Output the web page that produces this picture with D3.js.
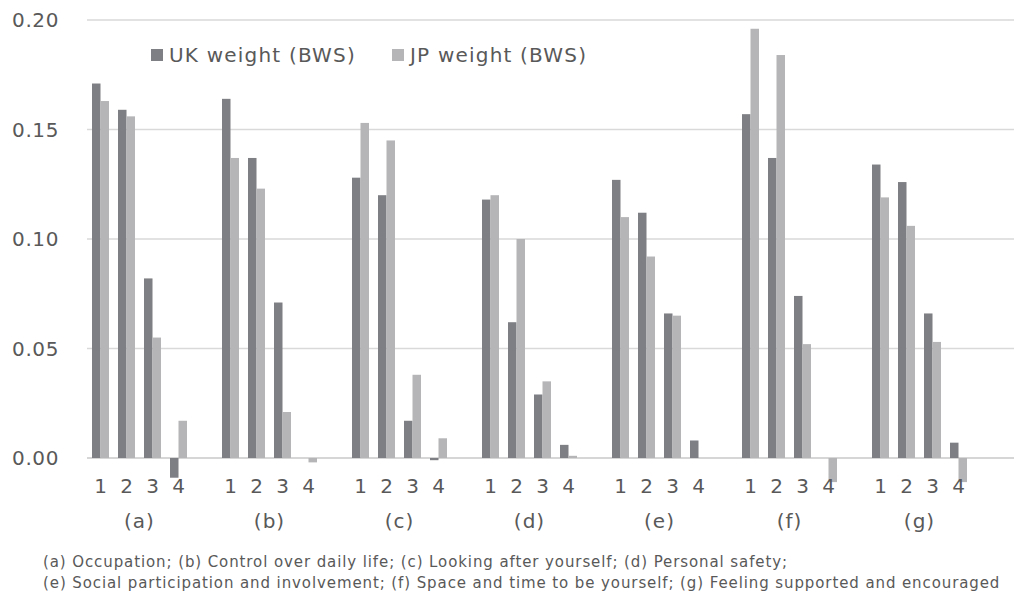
<!DOCTYPE html>
<html lang="en">
<head>
  <meta charset="UTF-8">
  <script src="https://cdn.jsdelivr.net/npm/d3@7"></script>
  <title>UK and JP weights (BWS)</title>
  <style>
    body { margin: 0; background: #fff; }
    text { font-family: "DejaVu Sans", Verdana, sans-serif; fill: #595959; }
  </style>
</head>
<body>
<script>
  // domains, categories and values
  var groups = ["(a)", "(b)", "(c)", "(d)", "(e)", "(f)", "(g)"];
  var levels = ["1", "2", "3", "4"];
  var seriesNames = ["UK weight (BWS)", "JP weight (BWS)"];
  var yTicks = [0, 0.05, 0.10, 0.15, 0.20];

  // one value per group x level, in group order
  var ukWeight = [
    0.171, 0.159, 0.082, -0.009,
    0.164, 0.137, 0.071, 0.000,
    0.128, 0.120, 0.017, -0.001,
    0.118, 0.062, 0.029, 0.006,
    0.127, 0.112, 0.066, 0.008,
    0.157, 0.137, 0.074, 0.000,
    0.134, 0.126, 0.066, 0.007
  ];
  var jpWeight = [
    0.163, 0.156, 0.055, 0.017,
    0.137, 0.123, 0.021, -0.002,
    0.153, 0.145, 0.038, 0.009,
    0.120, 0.100, 0.035, 0.001,
    0.110, 0.092, 0.065, 0.000,
    0.196, 0.184, 0.052, -0.011,
    0.119, 0.106, 0.053, -0.011
  ];

  var footnote = [
    "(a) Occupation; (b) Control over daily life; (c) Looking after yourself; (d) Personal safety;",
    "(e) Social participation and involvement; (f) Space and time to be yourself; (g) Feeling supported and encouraged"
  ];

  var width = 1014, height = 594;
  var colors = d3.scaleOrdinal().domain(seriesNames).range(["#7e7f84", "#b5b5b8"]);

  var svg = d3.select("body").append("svg")
    .attr("width", width)
    .attr("height", height);

  // scales
  var y = d3.scaleLinear().domain([0, 0.20]).range([458, 20]);

  // 7 groups of 5 slots (4 used + 1 gap), slot = 26px
  var x0 = d3.scaleBand().domain(groups).range([87.5, 997.5]);
  var x1 = d3.scaleBand().domain(levels).range([0, 104])
    .paddingInner(9 / 26).paddingOuter(4.5 / 26);
  var x2 = d3.scaleBand().domain(seriesNames).range([0, x1.bandwidth()]);

  // gridlines
  svg.append("g").selectAll("line").data(yTicks).enter().append("line")
    .attr("x1", 87).attr("x2", width)
    .attr("y1", function(d){ return y(d); })
    .attr("y2", function(d){ return y(d); })
    .attr("stroke", function(d){ return d === 0 ? "#c8c8c8" : "#d9d9d9"; })
    .attr("stroke-width", 1.5);

  // y axis labels
  svg.append("g").selectAll("text").data(yTicks).enter().append("text")
    .attr("x", 59)
    .attr("y", function(d){ return y(d); })
    .attr("dy", "0.36em")
    .attr("text-anchor", "end")
    .style("font-size", "20px")
    .style("letter-spacing", "0.6px")
    .text(function(d){ return d3.format(".2f")(d); });

  // flatten data
  var rows = [];
  groups.forEach(function(g, gi){
    levels.forEach(function(l, li){
      var k = gi * levels.length + li;
      rows.push({group: g, level: l, series: seriesNames[0], value: ukWeight[k]});
      rows.push({group: g, level: l, series: seriesNames[1], value: jpWeight[k]});
    });
  });

  svg.append("g").selectAll("rect").data(rows).enter().append("rect")
    .attr("x", function(d){ return x0(d.group) + x1(d.level) + x2(d.series); })
    .attr("width", x2.bandwidth())
    .attr("y", function(d){ return y(Math.max(0, d.value)); })
    .attr("height", function(d){ return Math.abs(y(d.value) - y(0)); })
    .attr("fill", function(d){ return colors(d.series); });

  // level tick labels
  var tickRows = [];
  groups.forEach(function(g){ levels.forEach(function(l){ tickRows.push({group: g, level: l}); }); });
  svg.append("g").selectAll("text").data(tickRows).enter().append("text")
    .attr("x", function(d){ return x0(d.group) + x1(d.level) + x1.bandwidth() / 2; })
    .attr("y", 493)
    .attr("text-anchor", "middle")
    .style("font-size", "20px")
    .text(function(d){ return d.level; });

  // group labels
  svg.append("g").selectAll("text").data(groups).enter().append("text")
    .attr("x", function(d){ return x0(d) + 52; })
    .attr("y", 528)
    .attr("text-anchor", "middle")
    .style("font-size", "20px")
    .style("letter-spacing", "1px")
    .text(function(d){ return d; });

  // legend
  var legendX = [151, 392];
  var legend = svg.append("g").selectAll("g").data(seriesNames).enter().append("g")
    .attr("transform", function(d, i){ return "translate(" + legendX[i] + ",49)"; });
  legend.append("rect")
    .attr("width", 12).attr("height", 12)
    .attr("fill", function(d){ return colors(d); });
  legend.append("text")
    .attr("x", 18).attr("y", 12.5)
    .style("font-size", "20px")
    .style("letter-spacing", "1.2px")
    .text(function(d){ return d; });

  // footnote
  svg.append("g").selectAll("text").data(footnote).enter().append("text")
    .attr("x", 43)
    .attr("y", function(d, i){ return 567 + i * 21; })
    .style("font-size", "15px")
    .style("letter-spacing", "0.9px")
    .text(function(d){ return d; });
</script>
</body>
</html>
